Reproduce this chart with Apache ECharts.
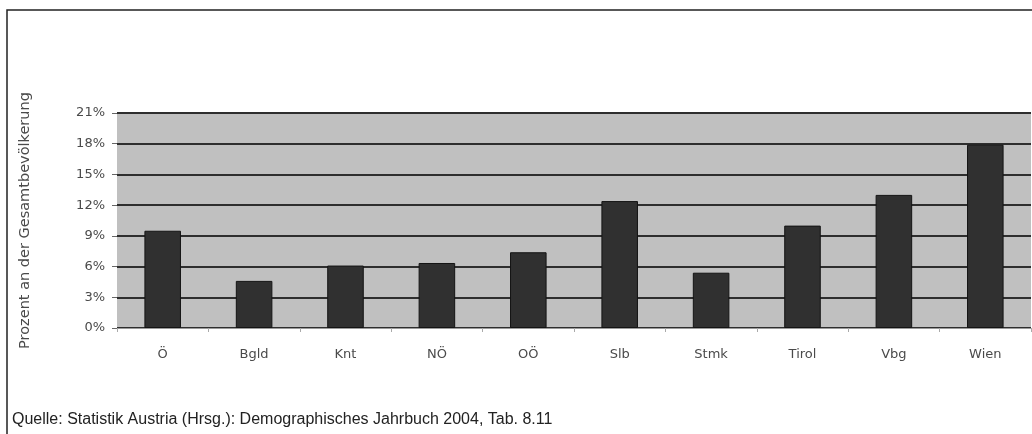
<!DOCTYPE html>
<html>
<head>
<meta charset="utf-8">
<script src="https://cdn.jsdelivr.net/npm/echarts@6/dist/echarts.min.js"></script>
<style>html,body{margin:0;padding:0;background:#fff}#c{width:1032px;height:434px}</style>
</head>
<body>
<div id="c"></div>
<script>
const categories = ['Ö', 'Bgld', 'Knt', 'NÖ', 'OÖ', 'Slb', 'Stmk', 'Tirol', 'Vbg', 'Wien'];
const values = [9.5, 4.6, 6.1, 6.35, 7.4, 12.4, 5.4, 10.0, 13.0, 17.9];
const yTicks = [0, 3, 6, 9, 12, 15, 18, 21];
const yAxisTitle = 'Prozent an der Gesamtbevölkerung';
const sourceText = 'Quelle: Statistik Austria (Hrsg.): Demographisches Jahrbuch 2004, Tab. 8.11';

const labelFont = 'Verdana, "DejaVu Sans", sans-serif';
const chart = echarts.init(document.getElementById('c'), null, {renderer: 'canvas'});
chart.setOption({
  animation: false,
  backgroundColor: '#fff',
  grid: {
    left: 117, right: 1, top: 113, bottom: 106,
    show: true, backgroundColor: '#c0c0c0', borderWidth: 0
  },
  xAxis: {
    type: 'category',
    data: categories,
    axisLine: {show: true, lineStyle: {color: '#9a9a9a', width: 1}},
    axisTick: {show: true, lineStyle: {color: '#aaa'}, length: 4},
    axisLabel: {color: '#4a4a4a', fontSize: 13, fontFamily: labelFont, margin: 20}
  },
  yAxis: {
    type: 'value',
    min: yTicks[0], max: yTicks[yTicks.length - 1], interval: 3,
    name: yAxisTitle,
    nameLocation: 'middle',
    nameGap: 84,
    nameRotate: 90,
    nameTextStyle: {color: '#4a4a4a', fontSize: 14.5, fontFamily: labelFont},
    axisLine: {show: false},
    axisTick: {show: true, length: 5, lineStyle: {color: '#666'}},
    axisLabel: {color: '#4a4a4a', fontSize: 13, fontFamily: labelFont, formatter: '{value}%', margin: 12},
    splitLine: {show: true, lineStyle: {color: '#2e2e2e', width: 2}}
  },
  series: [{
    type: 'bar',
    data: values,
    barWidth: '40%',
    itemStyle: {color: '#303030', borderColor: '#141414', borderWidth: 1}
  }],
  graphic: [
    {type: 'rect', shape: {x: 7, y: 10, width: 1100, height: 600}, style: {fill: 'none', stroke: '#222', lineWidth: 1.5}, silent: true},
    {type: 'text', left: 12, top: 412, style: {text: sourceText, fill: '#222', font: '16px "Liberation Sans", Arial, sans-serif'}}
  ]
});
</script>
</body>
</html>
